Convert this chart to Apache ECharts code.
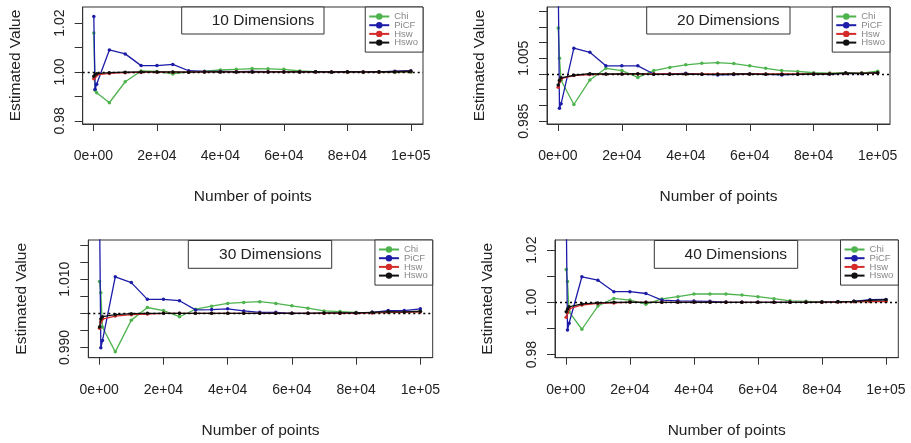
<!DOCTYPE html>
<html><head><meta charset="utf-8">
<script src="https://cdn.jsdelivr.net/npm/echarts@6/dist/echarts.min.js"></script>
<style>html,body{margin:0;padding:0;background:#fff}#c{width:911px;height:443px}</style>
</head><body><div id="c"></div><script>
// ---------- data ----------
const points = [100, 500, 1000, 5000, 10000, 15000, 20000, 25000, 30000, 35000, 40000, 45000, 50000, 55000, 60000, 65000, 70000, 75000, 80000, 85000, 90000, 95000, 100000];
const seriesNames = ['Chi', 'PiCF', 'Hsw', 'Hswo'];
const panelTitles = ['10 Dimensions', '20 Dimensions', '30 Dimensions', '40 Dimensions'];

const chi10  = [1.0160, 0.9925, 0.9915, 0.9874, 0.9960, 1.0004, 1.0002, 0.9992, 1.0000, 1.0003, 1.0008, 1.0011, 1.0014, 1.0013, 1.0011, 1.0004, 1.0001, 0.9999, 0.9998, 0.9998, 0.9999, 0.9998, 0.9999];
const picf10 = [1.0227, 0.9929, 0.9950, 1.0090, 1.0074, 1.0026, 1.0026, 1.0031, 1.0005, 1.0002, 1.0002, 1.0001, 1.0002, 1.0001, 1.0001, 1.0000, 1.0000, 0.9999, 1.0000, 1.0000, 1.0000, 1.0003, 1.0005];
const hsw10  = [0.9972, 0.9980, 0.9988, 0.9994, 0.9997, 0.9998, 0.9999, 0.9999, 0.9999, 1.0000, 1.0000, 1.0000, 1.0000, 1.0000, 1.0000, 1.0000, 1.0000, 1.0000, 1.0000, 1.0000, 1.0000, 1.0001, 1.0002];
const hswo10 = [0.9983, 0.9990, 0.9993, 0.9997, 0.9999, 1.0000, 1.0000, 1.0000, 0.9999, 1.0000, 1.0000, 1.0000, 1.0000, 1.0000, 1.0000, 1.0000, 1.0001, 1.0000, 1.0001, 1.0000, 1.0001, 1.0001, 1.0003];

const chi20  = [1.0146, 1.0050, 0.9980, 0.9903, 0.9981, 1.0018, 1.0011, 0.9989, 1.0011, 1.0021, 1.0029, 1.0034, 1.0036, 1.0033, 1.0026, 1.0018, 1.0011, 1.0008, 1.0004, 1.0003, 1.0004, 1.0003, 1.0009];
const picf20 = [1.0300, 0.9891, 0.9905, 1.0082, 1.0069, 1.0026, 1.0026, 1.0026, 1.0000, 1.0000, 1.0002, 0.9999, 0.9997, 0.9998, 1.0000, 0.9999, 0.9997, 0.9999, 1.0000, 1.0000, 1.0002, 1.0001, 1.0003];
const hsw20  = [0.9958, 0.9975, 0.9985, 0.9995, 0.9998, 0.9999, 1.0000, 1.0000, 1.0000, 1.0000, 1.0000, 1.0000, 1.0000, 1.0000, 1.0000, 1.0000, 1.0000, 1.0000, 1.0000, 1.0001, 1.0002, 1.0002, 1.0003];
const hswo20 = [0.9965, 0.9980, 0.9988, 0.9996, 1.0001, 1.0000, 1.0000, 1.0001, 0.9999, 0.9999, 1.0000, 0.9999, 0.9999, 1.0000, 1.0000, 0.9999, 0.9999, 0.9999, 1.0000, 1.0000, 1.0003, 1.0002, 1.0004];

const chi30  = [1.0093, 1.0060, 0.9960, 0.9887, 0.9980, 1.0017, 1.0008, 0.9990, 1.0012, 1.0021, 1.0029, 1.0032, 1.0034, 1.0029, 1.0022, 1.0015, 1.0007, 1.0005, 1.0003, 1.0002, 1.0002, 1.0003, 1.0005];
const picf30 = [1.0300, 0.9899, 0.9920, 1.0107, 1.0090, 1.0041, 1.0041, 1.0037, 1.0010, 1.0011, 1.0013, 1.0007, 1.0003, 1.0003, 1.0000, 1.0000, 1.0000, 1.0000, 1.0001, 1.0003, 1.0008, 1.0008, 1.0013];
const hsw30  = [0.9956, 0.9975, 0.9983, 0.9992, 0.9996, 0.9998, 1.0000, 1.0000, 1.0000, 1.0000, 1.0000, 1.0000, 1.0000, 1.0000, 1.0000, 1.0000, 1.0000, 1.0000, 1.0000, 1.0001, 1.0003, 1.0003, 1.0004];
const hswo30 = [0.9960, 0.9983, 0.9990, 0.9996, 0.9999, 1.0000, 1.0000, 1.0000, 1.0000, 1.0000, 1.0000, 1.0000, 1.0000, 1.0000, 1.0000, 1.0000, 1.0001, 1.0001, 1.0001, 1.0003, 1.0005, 1.0004, 1.0006];

const chi40  = [1.0126, 1.0080, 0.9964, 0.9897, 0.9986, 1.0015, 1.0009, 0.9993, 1.0013, 1.0022, 1.0032, 1.0032, 1.0032, 1.0028, 1.0022, 1.0014, 1.0006, 1.0004, 1.0002, 1.0002, 1.0003, 1.0003, 1.0004];
const picf40 = [1.0350, 0.9894, 0.9920, 1.0098, 1.0085, 1.0041, 1.0041, 1.0034, 1.0009, 1.0006, 1.0005, 1.0004, 1.0001, 1.0000, 1.0000, 1.0000, 1.0000, 1.0000, 1.0000, 1.0002, 1.0004, 1.0010, 1.0011];
const hsw40  = [0.9943, 0.9960, 0.9975, 0.9990, 0.9996, 0.9998, 1.0000, 1.0000, 1.0000, 1.0000, 1.0000, 1.0000, 1.0000, 1.0000, 1.0000, 1.0000, 1.0000, 1.0000, 1.0000, 1.0001, 1.0002, 1.0003, 1.0003];
const hswo40 = [0.9964, 0.9975, 0.9983, 0.9994, 0.9998, 1.0000, 1.0001, 1.0000, 1.0000, 1.0000, 1.0000, 1.0000, 1.0000, 1.0000, 1.0000, 1.0000, 1.0000, 1.0000, 1.0001, 1.0002, 1.0004, 1.0008, 1.0010];

const xTickValues = [0, 20000, 40000, 60000, 80000, 100000];
const xTickLabels = ['0e+00', '2e+04', '4e+04', '6e+04', '8e+04', '1e+05'];
const yTicks10 = [0.98, 0.99, 1.00, 1.01, 1.02];
const yLabelValues10 = [0.98, 1.00, 1.02];
const yLabelText10 = ['0.98', '1.00', '1.02'];
const yTicks20 = [0.985, 0.990, 0.995, 1.000, 1.005, 1.010, 1.015, 1.020];
const yLabelValues20 = [0.985, 1.005];
const yLabelText20 = ['0.985', '1.005'];
const yTicks30 = [0.990, 0.995, 1.000, 1.005, 1.010, 1.015, 1.020];
const yLabelValues30 = [0.990, 1.010];
const yLabelText30 = ['0.990', '1.010'];
const yTicks40 = [0.98, 0.99, 1.00, 1.01, 1.02];
const yLabelValues40 = [0.98, 1.00, 1.02];
const yLabelText40 = ['0.98', '1.00', '1.02'];
const referenceValue = 1;

// ---------- layout / style ----------
const FONT = '"Liberation Sans", Arial, sans-serif';
const TXT = '#222';
const colors = ['#4db34d', '#1c1ca8', '#d42a2a', '#111111'];
const panels = [
  { left: 82.7, top: 7, width: 340.3, height: 117, yMin: 0.9787, yMax: 1.0266,
    series: [chi10, picf10, hsw10, hswo10], ticks: yTicks10, lv: yLabelValues10, lt: yLabelText10,
    tbox: [181.7, 7, 142.3, 27], tx: 263 },
  { left: 547, top: 7, width: 343, height: 117, yMin: 0.9841, yMax: 1.0213,
    series: [chi20, picf20, hsw20, hswo20], ticks: yTicks20, lv: yLabelValues20, lt: yLabelText20,
    tbox: [646.7, 7, 143.3, 27], tx: 728.3 },
  { left: 88.3, top: 240, width: 344.4, height: 117.7, yMin: 0.98698, yMax: 1.0215,
    series: [chi30, picf30, hsw30, hswo30], ticks: yTicks30, lv: yLabelValues30, lt: yLabelText30,
    tbox: [188.3, 240.5, 143.4, 27.8], tx: 270.3 },
  { left: 555, top: 240, width: 343.3, height: 117.7, yMin: 0.9788, yMax: 1.0239,
    series: [chi40, picf40, hsw40, hswo40], ticks: yTicks40, lv: yLabelValues40, lt: yLabelText40,
    tbox: [654.3, 240.5, 143.4, 27.8], tx: 735.8 }
];

function lookup(vals, texts, v) {
  let best = 0;
  for (let i = 1; i < vals.length; i++) if (Math.abs(vals[i] - v) < Math.abs(vals[best] - v)) best = i;
  return texts[best];
}

const grid = [], xAxis = [], yAxis = [], series = [], legend = [], graphic = [];
panels.forEach((p, i) => {
  grid.push({ left: p.left, top: p.top, width: p.width, height: p.height, show: true,
    borderColor: '#333', borderWidth: 1, backgroundColor: '#fff' });
  xAxis.push({ type: 'value', gridIndex: i, position: 'bottom', min: -3400, max: 103850,
    name: 'Number of points', nameLocation: 'middle', nameGap: 65,
    nameTextStyle: { fontSize: 15.5, color: TXT, fontFamily: FONT },
    axisLine: { show: true, onZero: false, lineStyle: { color: '#333', width: 1 } }, splitLine: { show: false },
    axisTick: { show: true, inside: false, customValues: xTickValues, length: 7, lineStyle: { color: '#333', width: 1 } },
    axisLabel: { customValues: xTickValues, margin: 25, fontSize: 14, color: TXT, fontFamily: FONT,
      formatter: v => lookup(xTickValues, xTickLabels, v) } });
  yAxis.push({ type: 'value', gridIndex: i, position: 'left', min: p.yMin, max: p.yMax,
    name: 'Estimated Value', nameLocation: 'middle', nameGap: 59, nameRotate: 90,
    nameTextStyle: { fontSize: 15.5, color: TXT, fontFamily: FONT },
    axisLine: { show: true, onZero: false, lineStyle: { color: '#333', width: 1 } }, splitLine: { show: false },
    axisTick: { show: true, inside: false, customValues: p.ticks, length: 8, lineStyle: { color: '#333', width: 1 } },
    axisLabel: { customValues: p.lv, rotate: 90, margin: 16, fontSize: 14, color: TXT, fontFamily: FONT,
      formatter: v => lookup(p.lv, p.lt, v) } });
  p.series.forEach((arr, k) => {
    const s = { type: 'line', name: seriesNames[k], xAxisIndex: i, yAxisIndex: i,
      data: points.map((x, j) => [x, arr[j]]), symbol: 'circle', symbolSize: 3.5, showSymbol: true,
      clip: true, color: colors[k], lineStyle: { width: 1.3, color: colors[k] },
      itemStyle: { color: colors[k] }, animation: false, z: 2 + k * 0.01 };
    if (k === 3) {
      s.markLine = { silent: true, symbol: ['none', 'none'], label: { show: false },
        lineStyle: { type: [2, 3], color: '#000', width: 1.3 }, data: [{ yAxis: referenceValue }] };
    }
    series.push(s);
  });
  legend.push({ data: seriesNames, orient: 'vertical', right: 911 - (p.left + p.width), top: p.top,
    backgroundColor: '#fff', borderColor: '#333', borderWidth: 1, padding: [4.5, 5, 4.5, 3],
    itemWidth: 20, itemHeight: 8, itemGap: -1.3, selectedMode: false,
    textStyle: { fontSize: 9.5, lineHeight: 8.5, color: '#888', fontFamily: FONT } });
  graphic.push({ type: 'rect', z: 100, shape: { x: p.tbox[0], y: p.tbox[1], width: p.tbox[2], height: p.tbox[3] },
    style: { fill: '#fff', stroke: '#333', lineWidth: 1 } });
  graphic.push({ type: 'text', z: 101, x: p.tx, y: p.tbox[1] + p.tbox[3] / 2,
    style: { text: panelTitles[i], align: 'center', verticalAlign: 'middle', fontSize: 15.5, fontFamily: FONT, fill: TXT } });
});

const chart = echarts.init(document.getElementById('c'), null, { renderer: 'canvas' });
chart.setOption({ animation: false, backgroundColor: '#fff', grid, xAxis, yAxis, series, legend, graphic });
</script></body></html>
